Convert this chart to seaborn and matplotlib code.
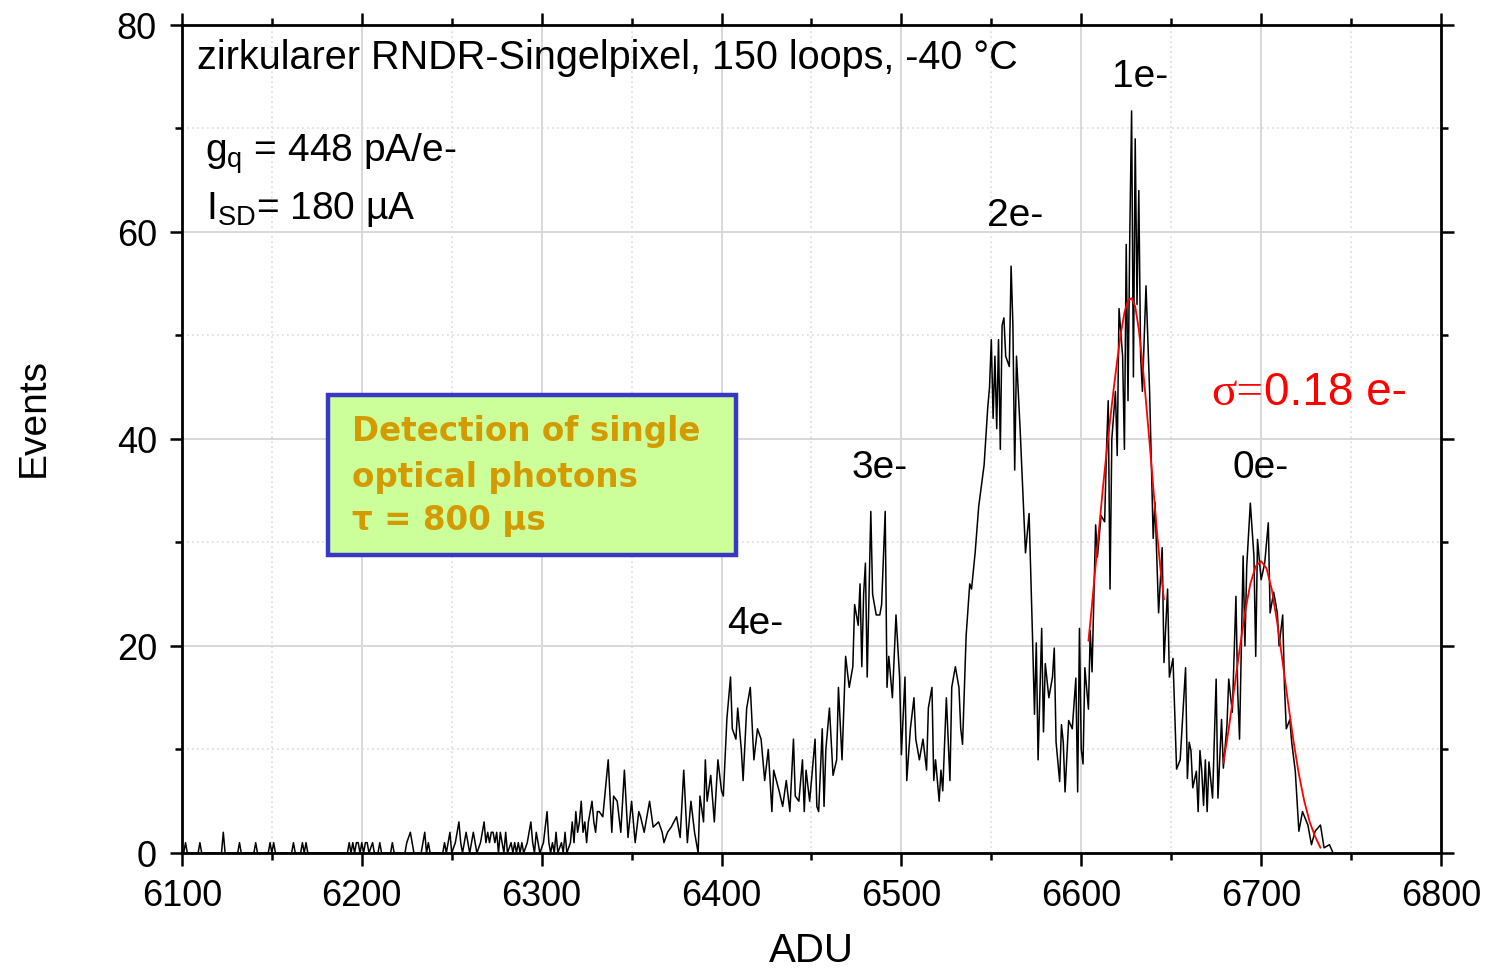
import matplotlib
matplotlib.use("Agg")
import matplotlib.pyplot as plt
import seaborn as sns
import pandas as pd
from matplotlib.patches import Rectangle
from matplotlib.ticker import MultipleLocator

# ---------------- data ----------------
adu = [
    6100, 6101, 6102, 6103, 6109, 6110, 6111, 6122, 6123, 6124, 6131, 6132, 6133,
    6140, 6141, 6142, 6148, 6149, 6150, 6151, 6152, 6161, 6162, 6163, 6166, 6167,
    6168, 6169, 6170, 6192, 6193, 6194, 6195, 6196, 6197, 6198, 6199, 6200, 6201,
    6202, 6203, 6204, 6206, 6207, 6209, 6210, 6211, 6216, 6217, 6218, 6224, 6225,
    6227, 6229, 6233, 6234, 6235, 6236, 6237, 6238, 6245, 6246, 6247, 6248, 6249,
    6250, 6252, 6254, 6255, 6256, 6258, 6259, 6260, 6262, 6263, 6264, 6266, 6268,
    6269, 6270, 6271, 6272, 6273, 6274, 6275, 6276, 6277, 6278, 6279, 6280, 6281,
    6283, 6284, 6285, 6286, 6287, 6288, 6289, 6290, 6292, 6294, 6295, 6296, 6297,
    6298, 6299, 6301, 6303, 6304, 6305, 6306, 6307, 6308, 6309, 6311, 6312, 6313,
    6314, 6316, 6317, 6318, 6319, 6320, 6321, 6322, 6323, 6324, 6325, 6326, 6327,
    6328, 6329, 6330, 6331,
    6332, 6334, 6337, 6339, 6340, 6342, 6344, 6346, 6348, 6350, 6352, 6354, 6355,
    6357, 6360, 6362, 6365, 6367, 6368, 6370, 6372, 6375, 6377, 6379, 6381, 6383,
    6385, 6387, 6388, 6390, 6391, 6392, 6394, 6396, 6398, 6400, 6401, 6403, 6405,
    6406, 6408, 6409, 6411, 6412, 6414, 6415, 6416, 6418, 6420, 6422, 6424, 6426,
    6428, 6429, 6432, 6434, 6436, 6438, 6440, 6441, 6443, 6445, 6446, 6447, 6449,
    6451, 6452, 6453, 6454, 6456, 6457, 6458, 6460, 6462, 6464, 6465, 6467, 6469,
    6471, 6473, 6474, 6476, 6477, 6478, 6479, 6480, 6481, 6483, 6484, 6486, 6488,
    6489, 6491, 6492, 6493, 6495, 6497, 6499, 6500, 6502, 6503, 6505, 6507, 6508,
    6510, 6512, 6514, 6515, 6517, 6518, 6519, 6521, 6522, 6523, 6525, 6527, 6528,
    6530, 6532, 6533, 6534, 6536, 6538, 6539, 6541, 6543, 6546, 6548, 6549, 6550,
    6551, 6552, 6553, 6554, 6555, 6556, 6557, 6558, 6560, 6561, 6562, 6563, 6564,
    6566, 6567, 6569, 6571, 6573, 6574, 6575, 6576, 6578, 6579, 6580, 6582, 6584,
    6585, 6586, 6588, 6589, 6590, 6591, 6593, 6595, 6597, 6598, 6599, 6600, 6601,
    6602, 6604, 6605, 6606, 6608, 6609, 6611, 6613, 6614, 6615, 6616, 6617, 6619,
    6620, 6621, 6623, 6624, 6625, 6626, 6627, 6628, 6629, 6630, 6631, 6632, 6633,
    6634, 6636, 6638, 6640, 6641, 6643, 6645, 6646, 6648, 6649, 6651, 6653, 6655,
    6658, 6659, 6660, 6661, 6662, 6664, 6665, 6666, 6667, 6668, 6669, 6670, 6671,
    6673, 6675, 6676, 6678, 6679, 6681, 6682, 6684, 6686, 6687, 6688, 6690, 6691,
    6692, 6694, 6696, 6697, 6698, 6700, 6702, 6704, 6705, 6707, 6709, 6710, 6712,
    6713, 6714, 6716, 6717, 6719, 6721, 6723, 6726, 6728, 6730, 6733, 6735, 6738,
    6740,
]
events = [
    0, 0, 1, 0, 0, 1, 0, 0, 2, 0, 0, 1, 0,
    0, 1, 0, 0, 1, 0, 1, 0, 0, 1, 0, 0, 1,
    0, 1, 0, 0, 1, 0, 1, 0, 1, 1, 0, 1, 0,
    1, 1, 0, 1, 0, 0, 1, 0, 0, 1, 0, 0, 1,
    2, 0, 0, 1, 2, 0, 1, 0, 0, 1, 0, 1, 2,
    0, 1, 3, 1, 0, 2, 1, 0, 2, 1, 0, 1, 3,
    1, 2, 1, 2, 2, 1, 2, 0, 2, 1, 0, 2, 0,
    1, 0, 1, 0, 1, 0, 1, 0, 1, 3, 1, 0, 2,
    1, 0, 1, 4, 1, 0, 1, 0, 2, 0, 1, 0, 2,
    0, 1, 3, 1, 4, 2, 3, 5, 2, 3, 1, 3, 4,
    5, 3, 2, 4,
    4, 3.5, 9, 2, 5.5, 5, 2, 8, 1.5, 5, 1, 4, 3.5,
    2, 5, 2.5, 3, 2, 1, 2, 2.5, 3.5, 1.5, 8, 1, 5,
    2, 0, 5.5, 3, 9, 5, 7.5, 3, 9, 6, 5.5, 13, 17,
    12, 11, 14, 10, 7, 14, 15, 16, 9, 12, 11, 7, 10,
    4, 8, 6, 4.5, 7, 4, 11, 5.5, 5, 9, 4, 8, 5,
    9, 11, 4.5, 4, 12, 4.5, 10, 14, 7.5, 9, 16, 9, 19,
    16, 18, 24, 22, 26, 18, 25, 28, 17, 33, 25, 23, 23,
    24, 33, 16, 19, 15, 23, 17, 9.5, 17, 7, 12, 15, 11,
    9, 11, 8, 14, 16, 7, 9, 5, 8, 6, 15, 7, 16,
    18, 16, 12, 10.5, 21, 26, 25.5, 29, 33.5, 37.5, 43, 45, 49.6,
    42, 48, 41, 49.6, 39, 51, 51.7, 48, 47, 56.7, 51, 37, 48,
    41, 37, 29, 32.8, 20.3, 13.4, 20.3, 9, 21.7, 11.7, 18.3, 15, 17,
    19.8, 10.7, 6.9, 12.4, 10.7, 5.9, 12.8, 12, 16.9, 5.9, 21.7, 10, 8.6,
    17.9, 13.9, 21.5, 17.5, 31.7, 28.6, 32.6, 32, 38.8, 43.7, 25.5, 40, 44.6,
    38.4, 52.6, 48, 39, 58.8, 43.7, 60, 71.7, 46, 69, 53, 64, 48,
    44.6, 54.8, 44.6, 30.4, 33.9, 23.2, 29.5, 18.4, 25.5, 17, 18.8, 8.1, 9,
    17.9, 7.2, 10.7, 9.9, 6.3, 7.9, 4, 9.9, 7.9, 4.6, 9, 4, 8.8,
    5.3, 16.8, 5.3, 12.9, 8.2, 12.3, 16.8, 13.6, 24.8, 15.5, 11, 28.7, 20,
    27.7, 33.8, 28.7, 19, 30.3, 26.4, 28, 31.9, 23.2, 25.2, 23.2, 20, 23,
    16, 12, 12.9, 10.7, 7.9, 2.1, 4, 2.7, 0.8, 2.1, 2.7, 0.5, 0.8,
    0,
]

# Gaussian fit curves (red)
fit1_adu = [6604, 6606, 6608, 6610, 6612, 6614, 6616, 6618, 6620, 6622, 6624,
            6626, 6628, 6630, 6632, 6634, 6636, 6638, 6640, 6642, 6644, 6646]
fit1_events = [20.5, 24.0, 27.8, 31.5, 35.2, 38.6, 41.8, 44.8, 47.6, 50.2, 52.2,
               53.4, 53.6, 52.8, 50.6, 47.4, 43.6, 39.6, 35.4, 31.2, 27.5, 24.5]
fit2_adu = [6679, 6682, 6685, 6688, 6691, 6694, 6697, 6700, 6703, 6706, 6709,
            6712, 6715, 6718, 6721, 6724, 6727, 6730, 6733]
fit2_events = [8.7, 12.0, 15.8, 19.6, 23.2, 26.0, 27.7, 28.2, 27.5, 25.4, 22.2,
               18.4, 14.5, 10.8, 7.6, 5.0, 3.0, 1.6, 0.5]

peak_labels = ["4e-", "3e-", "2e-", "1e-", "0e-"]
peak_label_adu = [6419, 6488, 6563, 6633, 6700]
peak_label_events = [22.2, 37.3, 61.6, 75.1, 37.3]

x_ticks = [6100, 6200, 6300, 6400, 6500, 6600, 6700, 6800]
y_ticks = [0, 20, 40, 60, 80]

# ---------------- style ----------------
sns.set_style("ticks")
plt.rcParams['font.family'] = ['Liberation Sans', 'DejaVu Sans']
plt.rcParams['mathtext.fontset'] = 'custom'
plt.rcParams['mathtext.rm'] = 'Liberation Sans'
plt.rcParams['mathtext.it'] = 'Liberation Sans'
plt.rcParams['text.color'] = 'black'
plt.rcParams['axes.labelcolor'] = 'black'
plt.rcParams['xtick.color'] = 'black'
plt.rcParams['ytick.color'] = 'black'

fig = plt.figure(figsize=(14.9, 9.7), dpi=100)
ax = fig.add_axes([0.1221, 0.1196, 0.8450, 0.8536])

df = pd.DataFrame({"adu": adu, "events": events})
sns.lineplot(data=df, x="adu", y="events", color="black", linewidth=1.1,
             estimator=None, sort=False, ax=ax)
sns.lineplot(x=fit1_adu, y=fit1_events, color="red", linewidth=1.3,
             estimator=None, sort=False, ax=ax)
sns.lineplot(x=fit2_adu, y=fit2_events, color="red", linewidth=1.3,
             estimator=None, sort=False, ax=ax)

ax.set_xlim(6100, 6800)
ax.set_ylim(0, 80)
ax.set_xticks(x_ticks)
ax.set_yticks(y_ticks)
ax.xaxis.set_minor_locator(MultipleLocator(50))
ax.yaxis.set_minor_locator(MultipleLocator(10))
ax.grid(which="major", color="#d8d8d8", linewidth=1.4)
ax.grid(which="minor", color="#dcdcdc", linewidth=1.2, linestyle=(0, (1, 2)))
ax.set_axisbelow(True)

for s in ax.spines.values():
    s.set_visible(True)
    s.set_linewidth(2.0)
    s.set_color("black")

ax.tick_params(which="major", direction="out", length=9, width=1.8,
               labelsize=26, pad=9, top=True, right=True, color="black",
               labelcolor="black")
ax.tick_params(which="minor", direction="out", length=5, width=1.8,
               top=True, right=True, color="black")

ax.set_xlabel("ADU", fontsize=29)
ax.set_ylabel("Events", fontsize=28)
ax.xaxis.set_label_coords(0.4996, -0.094)
ax.yaxis.set_label_coords(-0.103, 0.527)

# ---------------- annotations ----------------
ax.text(6108.3, 76.9, "zirkularer RNDR-Singelpixel, 150 loops, -40 °C",
        fontsize=28.5, ha="left", va="center")
ax.text(6112.8, 67.7, r"g$_{\mathregular{q}}$ = 448 pA/e-", fontsize=28,
        ha="left", va="center")
ax.text(6113.5, 62.3, r"I$_{\mathregular{SD}}$= 180 µA", fontsize=28,
        ha="left", va="center")

for lab, xa, ya in zip(peak_labels, peak_label_adu, peak_label_events):
    ax.text(xa, ya, lab, fontsize=28, ha="center", va="center")

sig = ax.text(6672.2, 43.4, "σ=", fontsize=34, color="red", ha="left",
              va="baseline", family=["Liberation Serif", "DejaVu Serif"])
fig.canvas.draw()
bb = sig.get_window_extent(renderer=fig.canvas.get_renderer())
x_end = ax.transData.inverted().transform((bb.x1, bb.y0))[0]
ax.text(x_end + 0.5, 43.4, "0.18 e-", fontsize=33, color="red", ha="left",
        va="baseline")

box = Rectangle((6181.1, 28.8), 226.7, 15.45, facecolor="#ccff99",
                edgecolor="#3737c8", linewidth=3.2, zorder=5)
ax.add_patch(box)
box_lines = ["Detection of single", "optical photons", "τ = 800 µs"]
box_y = [40.8, 36.4, 32.2]
for t, yy in zip(box_lines, box_y):
    ax.text(6194.4, yy, t, fontsize=23.5, fontweight="bold", color="#d49b00",
            ha="left", va="center", family=["DejaVu Sans"], zorder=6)

fig.savefig("out.png", dpi=100)
